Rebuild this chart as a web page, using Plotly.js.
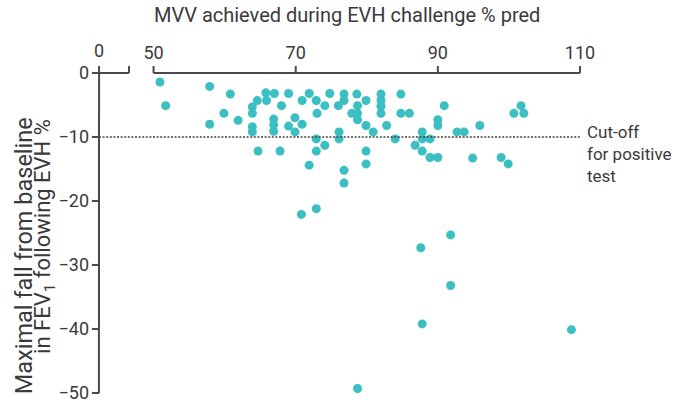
<!DOCTYPE html>
<html>
<head>
<meta charset="utf-8">
<script src="https://cdn.plot.ly/plotly-3.0.1.min.js"></script>
<style>html,body{margin:0;padding:0;background:#fff;}#chart{width:676px;height:410px;}</style>
</head>
<body>
<div id="chart"></div>
<script>
// MVV achieved during EVH challenge (% predicted)
var mvvPred = [50.9,51.7,57.9,57.9,60.8,59.9,61.9,63.9,63.9,63.9,63.9,64.6,65.8,65.9,67.0,68.0,66.9,66.9,66.9,64.7,67.8,69.0,69.0,69.9,70.9,69.9,70.9,71.9,72.9,73.0,74.1,74.8,72.9,74.1,72.9,71.9,76.1,76.1,76.0,76.8,76.8,77.9,76.8,76.8,78.6,79.9,78.7,78.7,78.7,82.0,82.0,82.0,82.0,84.8,84.8,86.0,79.9,80.9,82.8,84.0,79.9,79.9,87.8,87.8,88.9,86.8,87.8,88.9,90.0,90.0,90.0,90.9,92.7,93.7,95.9,94.9,98.9,99.9,100.7,101.7,102.1,70.8,72.9,91.8,87.6,91.8,87.8,108.8,78.7];
// Maximal fall from baseline in FEV1 following EVH (%)
var fev1Fall = [-1.4,-5.1,-2.1,-8.0,-3.3,-6.3,-7.4,-5.3,-6.3,-8.4,-9.2,-4.3,-3.1,-4.3,-3.2,-5.1,-7.2,-8.1,-9.1,-12.2,-12.2,-3.2,-8.3,-7.0,-8.0,-9.2,-4.3,-3.2,-4.3,-6.3,-5.1,-3.2,-10.3,-11.3,-12.2,-14.4,-9.2,-10.3,-5.1,-3.3,-4.3,-6.3,-15.2,-17.2,-3.3,-4.3,-5.1,-6.3,-7.3,-3.3,-4.3,-5.2,-6.3,-3.3,-6.3,-6.3,-8.2,-9.2,-8.2,-10.3,-12.2,-14.2,-9.2,-10.3,-10.3,-11.3,-12.2,-13.2,-13.2,-7.3,-8.2,-5.1,-9.2,-9.2,-8.2,-13.3,-13.2,-14.2,-6.3,-5.1,-6.3,-22.1,-21.2,-25.3,-27.3,-33.2,-39.2,-40.1,-49.3];

var xRange = [50, 110];
var yRange = [-50, 0];
var mainTicks = [50, 70, 90, 110];
var yTicks = [0, -10, -20, -30, -40, -50];
var brokenAxisLabel = '0';
var cutOff = -10;

var axisColor = '#4a4a4a';
var textColor = '#3a3a3a';
var fontFam = 'Roboto, sans-serif';
var fs = 18;

var points = {
  x: mvvPred, y: fev1Fall, type: 'scatter', mode: 'markers',
  marker: {color: '#3bbfc2', size: 9, line: {width: 0}},
  hoverinfo: 'x+y'
};

// geometry of the plot area (decorations only)
var plotW = 676 - 99 - 96;
var plotH = 410 - 73 - 17;
var xDomain = [0.1134, 1];
function py(px) { return (392.7 - px) / plotH; }   // pixel y -> paper y
function xPaper(v) { return xDomain[0] + (v - xRange[0]) / (xRange[1] - xRange[0]) * (xDomain[1] - xDomain[0]); }
function yPaper(v) { return (v - yRange[0]) / (yRange[1] - yRange[0]); }
var stubEnd = 30 / plotW;
var tickUp = 7 / plotH;
var tickLeft = 7 / plotW;
var axLine = {color: axisColor, width: 2};

function seg(x0, y0, x1, y1) {
  return {type: 'path', xref: 'paper', yref: 'paper',
    path: 'M' + x0 + ',' + y0 + 'L' + x1 + ',' + y1, line: axLine, layer: 'above'};
}
function seg2(x0, y0, x1, y1) {
  return {type: 'line', xref: 'paper', yref: 'paper', x0: x0, y0: y0, x1: x1, y1: y1, line: axLine, layer: 'above'};
}
var shapes = [
  {type: 'line', xref: 'paper', yref: 'paper', x0: 0, x1: 1, y0: yPaper(cutOff), y1: yPaper(cutOff),
   line: {color: '#444444', width: 1.3, dash: '2px,1.6px'}},
  // broken x-axis stub at 0 with both end ticks
  seg2(0, 1, stubEnd, 1),
  seg2(stubEnd, 1, stubEnd, 1 + tickUp),
  // y-axis line
  seg2(-0.0001, -0.001, 0.0001, 1 + tickUp),
  // main x-axis line
  seg2(xPaper(xRange[0]), 1, xPaper(xRange[1]), 1.0001)
];
mainTicks.forEach(function (v) { shapes.push(seg2(xPaper(v), 1, xPaper(v) + 0.0001, 1 + tickUp)); });
yTicks.forEach(function (v) { shapes.push(seg2(-tickLeft, yPaper(v), 0, yPaper(v) + 0.0001)); });

var layout = {
  width: 676, height: 410,
  margin: {l: 99, r: 96, t: 73, b: 17, pad: 0},
  paper_bgcolor: '#ffffff', plot_bgcolor: 'rgba(0,0,0,0)',
  showlegend: false,
  font: {family: fontFam, size: fs, color: textColor},
  xaxis: {
    domain: xDomain, range: xRange, side: 'top', anchor: 'y',
    tickmode: 'array', tickvals: mainTicks, ticks: '', ticklabelstandoff: 9,
    showline: false, showgrid: false, zeroline: false, fixedrange: true,
    tickfont: {family: fontFam, size: fs, color: textColor}
  },
  yaxis: {
    anchor: 'free', position: 0, range: yRange, tickmode: 'array', tickvals: yTicks,
    ticks: '', ticklabelstandoff: 10,
    showline: false, showgrid: false, zeroline: false, fixedrange: true,
    tickfont: {family: fontFam, size: fs, color: textColor}
  },
  shapes: shapes,
  annotations: [
    {text: brokenAxisLabel, xref: 'paper', yref: 'paper', x: 0, y: py(50), xanchor: 'center', yanchor: 'middle',
     showarrow: false, font: {family: fontFam, size: fs, color: textColor}},
    {text: 'MVV achieved during EVH challenge % pred', xref: 'paper', yref: 'paper',
     x: 0.516, y: py(15), xanchor: 'center', yanchor: 'middle', showarrow: false,
     font: {family: fontFam, size: 20, color: textColor}},
    {text: 'Maximal fall from baseline', xref: 'paper', yref: 'paper',
     x: -0.156, y: py(255), xanchor: 'center', yanchor: 'middle', textangle: -90, showarrow: false,
     font: {family: fontFam, size: 23.5, color: textColor}},
    {text: 'in FEV<sub>1</sub> following EVH %', xref: 'paper', yref: 'paper',
     x: -0.113, y: py(236), xanchor: 'center', yanchor: 'middle', textangle: -90, showarrow: false,
     font: {family: fontFam, size: 22, color: textColor}},
    {text: 'Cut-off<br>for positive<br>test', xref: 'paper', yref: 'paper',
     x: 1.011, y: py(154), xanchor: 'left', yanchor: 'middle', align: 'left', showarrow: false,
     font: {family: fontFam, size: 17, color: textColor}}
  ]
};

Plotly.newPlot('chart', [points], layout, {displayModeBar: false, staticPlot: true});
</script>
</body>
</html>
